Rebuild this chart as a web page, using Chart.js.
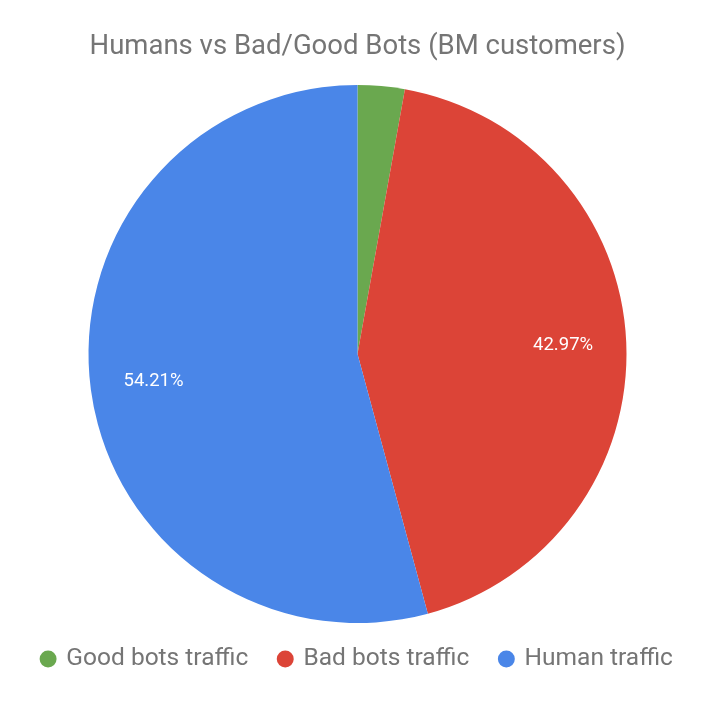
<!DOCTYPE html>
<html>
<head>
<meta charset="utf-8">
<script src="https://cdn.jsdelivr.net/npm/chart.js@4/dist/chart.umd.min.js"></script>
<style>
  html, body { margin: 0; padding: 0; background: #fff; }
  #wrap { width: 715px; height: 707px; }
</style>
</head>
<body>
<div id="wrap"><canvas id="pie"></canvas></div>
<script>
const categories = ["Good bots traffic", "Bad bots traffic", "Human traffic"];
const shares = [2.82, 42.97, 54.21];
const colors = ["#6aa84f", "#dc4437", "#4a86e8"];

// draws the percentage text inside the bigger slices
const sliceLabels = {
  id: "sliceLabels",
  afterDatasetsDraw(chart) {
    const ctx = chart.ctx;
    const meta = chart.getDatasetMeta(0);
    const total = shares.reduce((a, b) => a + b, 0);
    ctx.save();
    ctx.fillStyle = "#ffffff";
    ctx.font = "18.5px Roboto";
    ctx.textAlign = "center";
    ctx.textBaseline = "middle";
    meta.data.forEach((arc, i) => {
      const pct = shares[i] / total * 100;
      if (pct < 5) return;
      const mid = (arc.startAngle + arc.endAngle) / 2;
      const r = arc.outerRadius * 0.765;
      ctx.fillText(pct.toFixed(2) + "%", arc.x + Math.cos(mid) * r, arc.y + Math.sin(mid) * r);
    });
    ctx.restore();
  }
};

new Chart(document.getElementById("pie"), {
  type: "pie",
  data: {
    labels: categories,
    datasets: [{
      data: shares,
      backgroundColor: colors,
      borderWidth: 0
    }]
  },
  plugins: [sliceLabels],
  options: {
    responsive: true,
    maintainAspectRatio: false,
    animation: false,
    radius: 269,
    layout: { padding: { top: 0, bottom: 25.75, left: 0, right: 0 } },
    plugins: {
      title: {
        display: true,
        text: "Humans vs Bad/Good Bots (BM customers)",
        color: "#757575",
        font: { family: "Roboto", size: 27.5, weight: "normal" },
        padding: { top: 30.5, bottom: 28.75 }
      },
      legend: {
        position: "bottom",
        labels: {
          usePointStyle: true,
          pointStyle: "circle",
          boxWidth: 12,
          boxHeight: 12,
          padding: 31,
          color: "#757575",
          font: { family: "Roboto", size: 24.5 }
        }
      },
      tooltip: { enabled: false }
    }
  }
});
</script>
</body>
</html>
